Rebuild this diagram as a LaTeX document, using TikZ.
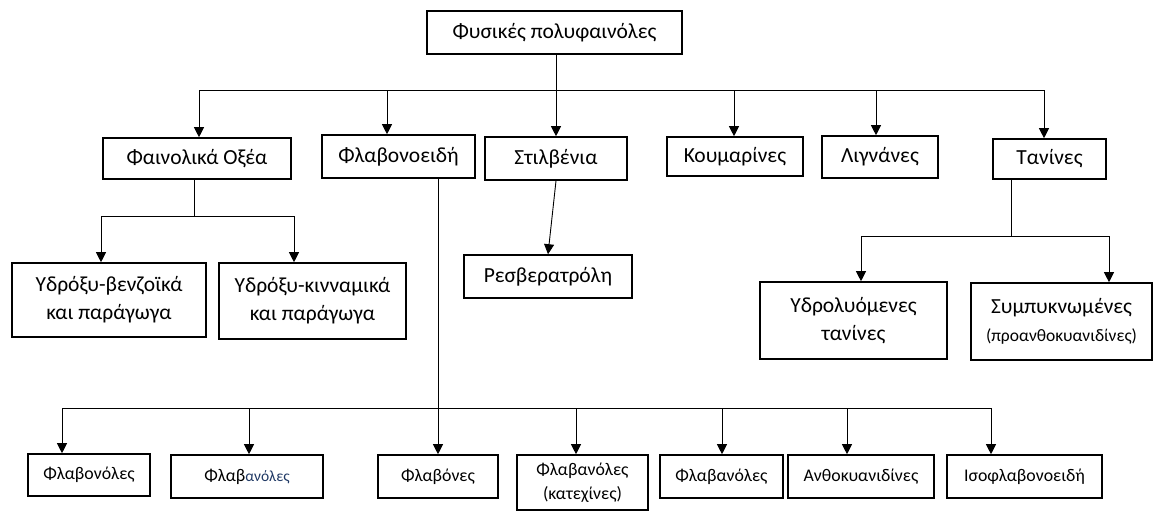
\documentclass[tikz,border=0pt]{standalone}
\usepackage{fontspec}
\setmainfont{Carlito}
\usetikzlibrary{arrows.meta}
\definecolor{navyblue}{HTML}{1F3864}

\tikzset{
  box/.style={draw, line width=1.6pt, inner sep=0pt, align=center, font=\fontsize{21.5}{28}\selectfont},
  leaf/.style={box, font=\fontsize{17.8}{24}\selectfont},
  link/.style={line width=0.9pt},
  arr/.style={link, -{Triangle[width=10pt,length=10pt]}},
}

\begin{document}
\begin{tikzpicture}[x=1pt,y=-1pt]
\useasboundingbox (0,0) rectangle (1154,512);
% top
\node[box, minimum width=255pt, minimum height=43pt] (root) at (554.5,32.5) {Φυσικές πολυφαινόλες};
% first level
\node[box, minimum width=188pt, minimum height=41pt] (ph) at (197,158.5) {Φαινολικά Οξέα};
\node[box, minimum width=153pt, minimum height=43pt] (fl) at (398.5,156.5) {Φλαβονοειδή};
\node[box, minimum width=142pt, minimum height=43pt] (st) at (556,158.5) {Στιλβένια};
\node[box, minimum width=136pt, minimum height=39pt] (ko) at (735,156.5) {Κουμαρίνες};
\node[box, minimum width=116pt, minimum height=42pt] (li) at (880,157) {Λιγνάνες};
\node[box, minimum width=113pt, minimum height=40pt] (ta) at (1049.5,159) {Τανίνες};
% second level
\node[box, minimum width=194pt, minimum height=74pt] (hb) at (109,300) {Υδρόξυ-βενζοϊκά\\και παράγωγα};
\node[box, minimum width=187pt, minimum height=76pt] (hc) at (312.5,301) {Υδρόξυ-κινναμικά\\και παράγωγα};
\node[box, minimum width=168pt, minimum height=43pt] (re) at (548,276.5) {Ρεσβερατρόλη};
\node[box, minimum width=187pt, minimum height=77pt] (hy) at (853.5,320.5) {Υδρολυόμενες\\τανίνες};
\node[box, minimum width=181pt, minimum height=77pt] (co) at (1061.5,321.5) {Συμπυκνωμένες\\{\fontsize{17.5}{20}\selectfont (προανθοκυανιδίνες)}};
% third level
\node[leaf, minimum width=122pt, minimum height=42pt] (f1) at (89,475) {Φλαβονόλες};
\node[leaf, minimum width=152pt, minimum height=43pt] (f2) at (247,476.5) {Φλαβ{\color{navyblue}\fontsize{15.5}{18}\selectfont ανόλες}};
\node[leaf, minimum width=120pt, minimum height=43pt] (f3) at (438,476.5) {Φλαβόνες};
\node[leaf, minimum width=131pt, minimum height=55pt] (f4) at (582.5,482.5) {Φλαβανόλες\\(κατεχίνες)};
\node[leaf, minimum width=123pt, minimum height=43pt] (f5) at (721.5,476.5) {Φλαβανόλες};
\node[leaf, minimum width=146pt, minimum height=43pt] (f6) at (861,476.5) {Ανθοκυανιδίνες};
\node[leaf, minimum width=155pt, minimum height=43pt] (f7) at (1024.5,476.5) {Ισοφλαβονοειδή};

% root to first level
\coordinate (b1w) at (199,90);
\coordinate (b1e) at (1044,90);
\draw[link] (b1w) -- (b1e);
\draw[arr] (root.south -| st.north) -- (st.north);
\foreach \n/\x in {ph/199, fl/387, ko/734, li/876, ta/1044}
  \draw[arr] (\x,90) -- (\x,0 |- \n.north);
% phenolic acids
\draw[link] (ph.south -| 194,0) -- (194,216);
\draw[link] (101,216) -- (294,216);
\foreach \n/\x in {hb/101, hc/294}
  \draw[arr] (\x,216) -- (\x,0 |- \n.north);
% stilbenes
\draw[arr] (st.south) -- (re.north);
% tannins
\draw[link] (ta.south -| 1011,0) -- (1011,236);
\draw[link] (861,236) -- (1109,236);
\foreach \n/\x in {hy/861, co/1109}
  \draw[arr] (\x,236) -- (\x,0 |- \n.north);
% flavonoids
\draw[arr] (fl.south -| f3.north) -- (f3.north);
\draw[link] (62,408) -- (991,408);
\foreach \n/\x in {f1/62, f2/249, f4/576, f5/722, f6/847, f7/991}
  \draw[arr] (\x,408) -- (\x,0 |- \n.north);
\end{tikzpicture}
\end{document}
